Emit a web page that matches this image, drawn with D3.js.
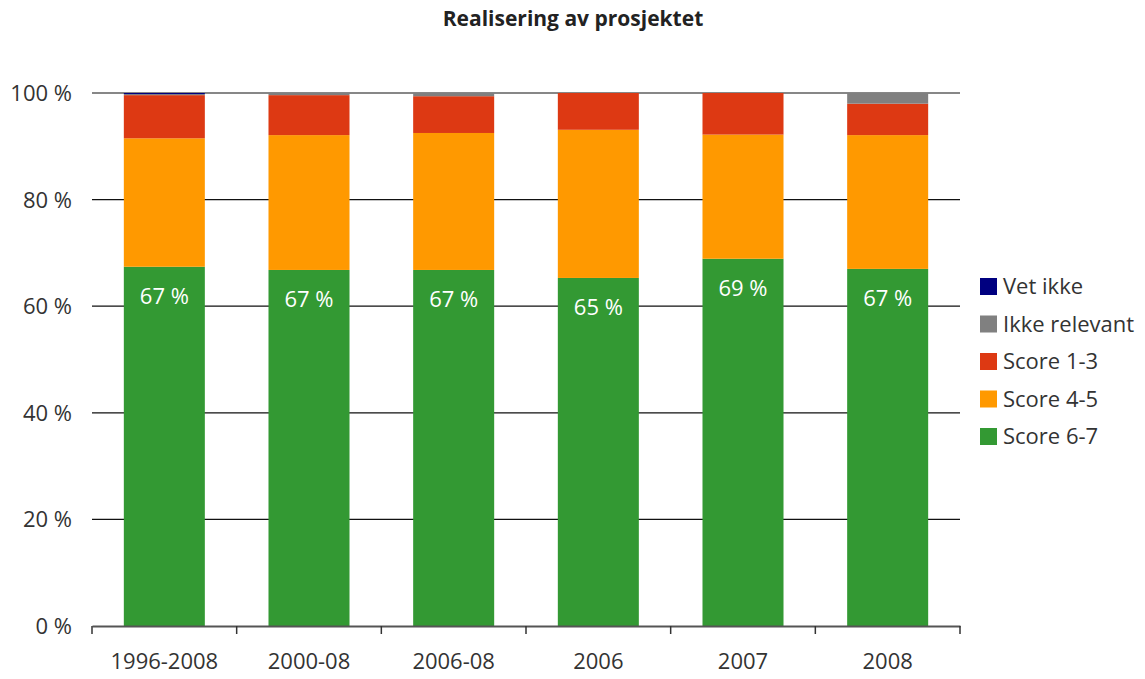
<!DOCTYPE html>
<html><head><meta charset="utf-8">
<script src="https://cdn.jsdelivr.net/npm/d3@7"></script>
<style>
body{margin:0;background:#fff;}
text{font-family:"Open Sans",sans-serif;}
</style></head>
<body><svg id="c" width="1145" height="679"></svg>
<script>
const categories = ["1996-2008","2000-08","2006-08","2006","2007","2008"];
const seriesNames = ["Score 6-7","Score 4-5","Score 1-3","Ikke relevant","Vet ikke"];
const score67 = [67.4, 66.8, 66.8, 65.3, 68.9, 67.0];
const score45 = [24.1, 25.3, 25.7, 27.8, 23.3, 25.1];
const score13 = [8.1, 7.5, 6.9, 6.9, 7.8, 5.9];
const ikkeRelevant = [0.2, 0.4, 0.6, 0.0, 0.0, 2.0];
const vetIkke = [0.2, 0.0, 0.0, 0.0, 0.0, 0.0];
const yTicks = [0,20,40,60,80,100];
const colors = {"Score 6-7":"#339933","Score 4-5":"#FF9900","Score 1-3":"#DD3913","Ikke relevant":"#808080","Vet ikke":"#000080"};
const values = {"Score 6-7":score67,"Score 4-5":score45,"Score 1-3":score13,"Ikke relevant":ikkeRelevant,"Vet ikke":vetIkke};

const svg = d3.select("#c");
const m = {l:92, r:960, t:93, b:626};
const x = d3.scaleBand().domain(categories).range([m.l, m.r]).paddingInner(0.44).paddingOuter(0.22);
const y = d3.scaleLinear().domain([0,100]).range([m.b, m.t]);

svg.append("text").attr("x",573).attr("y",26).attr("text-anchor","middle")
  .attr("font-weight","bold").attr("font-size",21).attr("fill","#222").text("Realisering av prosjektet");

// gridlines
svg.append("g").selectAll("line").data(yTicks.filter(d=>d>0)).join("line")
  .attr("x1",m.l).attr("x2",m.r).attr("y1",d=>y(d)).attr("y2",d=>y(d))
  .attr("stroke","#111").attr("stroke-width",1.2);

const rows = categories.map((c,i)=>{const o={cat:c}; seriesNames.forEach(s=>o[s]=values[s][i]); return o;});
const stack = d3.stack().keys(seriesNames)(rows);
svg.append("g").selectAll("g").data(stack).join("g").attr("fill",d=>colors[d.key])
  .selectAll("rect").data(d=>d).join("rect")
  .attr("x",d=>x(d.data.cat)).attr("width",x.bandwidth())
  .attr("y",d=>y(d[1])).attr("height",d=>Math.max(0,y(d[0])-y(d[1])));

// data labels
svg.append("g").selectAll("text").data(rows).join("text")
  .attr("x",d=>x(d.cat)+x.bandwidth()/2).attr("y",d=>y(d["Score 6-7"])+37)
  .attr("text-anchor","middle").attr("font-size",22).attr("fill","#fff")
  .text(d=>Math.round(d["Score 6-7"])+" %");

// y axis labels
svg.append("g").selectAll("text").data(yTicks).join("text")
  .attr("x",72).attr("y",d=>y(d)+8).attr("text-anchor","end").attr("font-size",22).attr("fill","#333")
  .text(d=>d+" %");

// x axis
const xa = svg.append("g").attr("transform",`translate(0,${m.b})`)
  .call(d3.axisBottom(x).tickSize(0).tickPadding(27));
xa.select(".domain").attr("stroke","#555").attr("stroke-width",2);
xa.selectAll(".tick text").attr("font-size",22).attr("fill","#333").attr("font-family","Open Sans, sans-serif");
const bounds = d3.range(categories.length+1).map(i=>m.l+i*(m.r-m.l)/categories.length);
xa.selectAll("line.b").data(bounds).join("line").attr("class","b")
  .attr("x1",d=>d).attr("x2",d=>d).attr("y1",0).attr("y2",8).attr("stroke","#333").attr("stroke-width",1.5);

// legend
const leg = svg.append("g").attr("transform","translate(980,286)");
const legOrder = ["Vet ikke","Ikke relevant","Score 1-3","Score 4-5","Score 6-7"];
const li = leg.selectAll("g").data(legOrder).join("g").attr("transform",(d,i)=>`translate(0,${i*37.5})`);
li.append("rect").attr("x",0).attr("y",-8).attr("width",17).attr("height",17).attr("fill",d=>colors[d]);
li.append("text").attr("x",23).attr("y",8).attr("font-size",22).attr("fill","#333").text(d=>d);
</script></body></html>
